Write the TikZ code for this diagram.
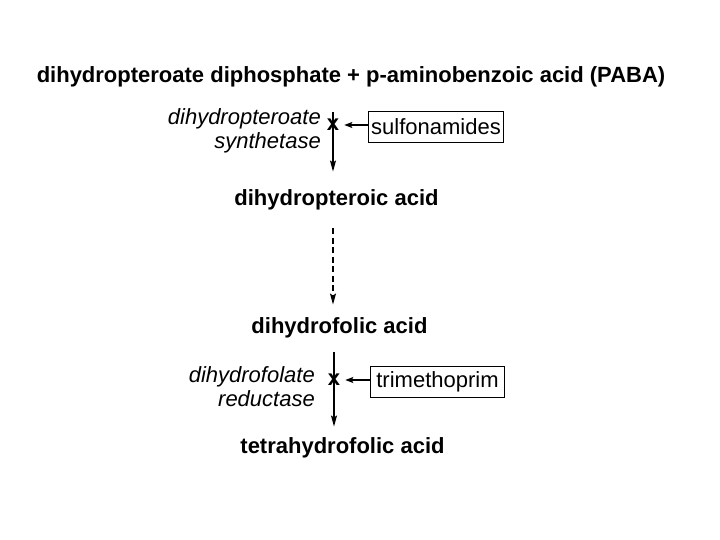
\documentclass[tikz,border=0pt]{standalone}
\usepackage{fontspec}
\setmainfont{Liberation Sans}
\usetikzlibrary{arrows.meta,positioning}

\begin{document}
\begin{tikzpicture}[
    x=1pt, y=-1pt,
    font=\fontsize{22}{24}\selectfont,
    chem/.style={font=\fontsize{22}{24}\selectfont\bfseries, anchor=base},
    enzyme/.style={font=\fontsize{22}{24}\selectfont\itshape, align=right,
                   anchor=base east, inner sep=0pt},
    block/.style={font=\fontsize{22}{24}\selectfont\bfseries, inner sep=5pt},
    drug/.style={draw, line width=0.9pt, inner sep=3pt, minimum height=31pt,
                 minimum width=134pt},
    rxn/.style={-{Stealth[length=11pt,width=6pt,inset=2pt]}, line width=1.1pt},
    inhib/.style={-{Stealth[length=8pt,width=6pt,inset=1.5pt]}, line width=1.1pt},
  ]
  \useasboundingbox (0,0) rectangle (720,540);

  % substances
  \node[chem] (paba) at (351,83) {dihydropteroate diphosphate + p-aminobenzoic acid (PABA)};
  \node[chem] (pteroic) at (336.5,206) {dihydropteroic acid};
  \node[chem] (folic) at (339.5,333) {dihydrofolic acid};
  \node[chem] (thf) at (342.5,453) {tetrahydrofolic acid};

  % first step, blocked by sulfonamides
  \node[block] (blockA) at (333,125) {x};
  \node[enzyme] (enzA) at (321,149) {dihydropteroate\\synthetase};
  \node[drug] (drugA) at (436,127) {sulfonamides};

  % second step, blocked by trimethoprim
  \node[block] (blockB) at (334,380) {x};
  \node[enzyme] (enzB) at (315,406) {dihydrofolate\\reductase};
  \node[drug] (drugB) at (437.5,381.5) {trimethoprim};

  \draw[rxn, shorten <=21pt, shorten >=15pt] (paba.south -| blockA) -- (pteroic.north -| blockA);
  \draw[rxn, dash pattern=on 6pt off 3.5pt, shorten <=14pt, shorten >=9pt]
       (pteroic.south -| blockA) -- (folic.north -| blockA);
  \draw[rxn, shorten <=11pt, shorten >=7pt] (folic.south -| blockB) -- (thf.north -| blockB);

  \draw[inhib] (drugA.west |- blockA) -- (blockA.east);
  \draw[inhib] (drugB.west |- blockB) -- (blockB.east);

\end{tikzpicture}
\end{document}
